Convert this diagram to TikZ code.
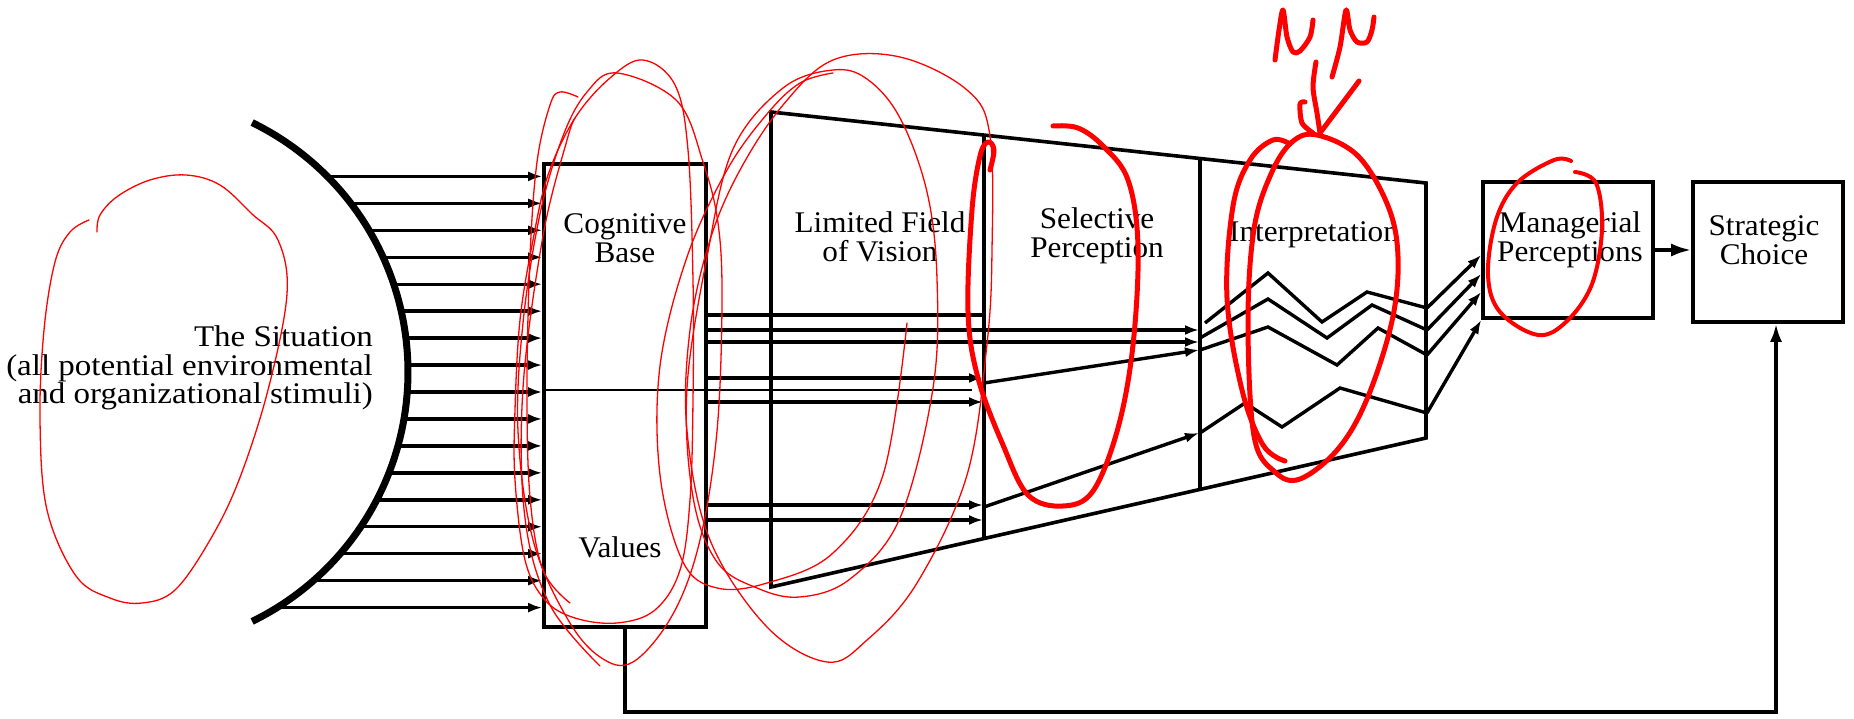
\documentclass[tikz,border=0pt]{standalone}
\usepackage{fontspec}
\setmainfont{Liberation Serif}[FakeStretch=1.04]
\newfontfamily\sitfont{Liberation Serif}[FakeStretch=1.10]
\usetikzlibrary{arrows.meta}
\begin{document}
\begin{tikzpicture}[x=1pt,y=-1pt,line join=miter,
  ln/.style={line width=3.6pt},
  arr/.style={line width=3.4pt,-{Latex[length=14pt,width=10pt]}},
  lbl/.style={font=\fontsize{30}{29.5}\selectfont,align=center,inner sep=0pt},
  redthin/.style={red,line width=1.3pt,line cap=round,line join=round},
  redthick/.style={red,line width=5pt,line cap=round,line join=round}]
\useasboundingbox (0,0) rectangle (1854,719);
\fill[white] (0,0) rectangle (1854,719);

% the situation arc
\draw[line width=7pt] plot[domain=-64:64,samples=90] ({130.5+277.5*cos(\x)},{372+277.5*sin(\x)});

% boxes
\node[draw,ln,minimum width=162pt,minimum height=463pt,inner sep=0pt] (cb) at (625,395.5) {};
\node[draw,ln,minimum width=170pt,minimum height=136pt,inner sep=0pt] (mp) at (1568,250) {};
\node[draw,ln,minimum width=150pt,minimum height=140pt,inner sep=0pt] (sc) at (1768,252) {};

% trapezoid
\coordinate (T1) at (771,112);
\coordinate (T2) at (1426,183);
\coordinate (T3) at (1426,438);
\coordinate (T4) at (771,587);
\draw[ln] (T1) -- (T2) -- (T3) -- (T4) -- cycle;
\coordinate (V1t) at (984,135);
\coordinate (V1b) at (984,538);
\coordinate (V2t) at (1200,158.6);
\coordinate (V2b) at (1200,489);
\draw[ln] (V1t) -- (V1b);
\draw[ln] (V2t) -- (V2b);

% labels
\node[lbl] (tcb) at (625,238) {Cognitive\\Base};
\node[lbl] (tval) at (620,547) {Values};
\node[lbl] (tlf) at (880,237) {Limited Field\\of Vision};
\node[lbl] (tsp) at (1097,236) {Selective\\Perception};
\node[lbl] (tint) at (1314,235) {Interpretation};
\node[lbl] (tmp) at (1570,240) {Managerial\\Perceptions};
\node[lbl] (tsc) at (1764,240) {Strategic\\Choice};
\node[lbl,align=right,anchor=east,font=\sitfont\fontsize{30}{28.5}\selectfont] (tsit) at (373,368)
  {The Situation\\(all potential environmental\\and organizational stimuli)};

% stimuli arrows
\foreach \i in {0,...,16}{
  \pgfmathsetmacro{\yy}{176.4+26.95*\i}
  \pgfmathsetmacro{\dd}{(\yy-372)/100}
  \pgfmathsetmacro{\xx}{130.5+100*sqrt(2.775*2.775-\dd*\dd)}
  \coordinate (s\i) at (\xx,\yy);
  \draw[arr] (s\i) -- (s\i -| cb.west);
}

% lines through the limited field
\coordinate (P315) at (984,315);
\coordinate (A330) at (1199,330);
\coordinate (A342) at (1199,342);
\coordinate (B378) at (983,378);
\coordinate (B390) at (972,390);
\coordinate (B402) at (983,402);
\coordinate (C505) at (983,505);
\coordinate (C520) at (983,520);
\draw[ln] (cb.east |- P315) -- (P315);
\draw[arr] (cb.east |- A330) -- (A330);
\draw[arr] (cb.east |- A342) -- (A342);
\draw[arr] (cb.east |- B378) -- (B378);
\draw[line width=2.8pt] (cb.west |- B390) -- (B390);
\draw[arr] (cb.east |- B402) -- (B402);
\draw[arr] (cb.east |- C505) -- (C505);
\draw[arr] (cb.east |- C520) -- (C520);

% slanted arrows through selective perception
\coordinate (D1) at (984,383);
\coordinate (D2) at (1199,350);
\coordinate (E1) at (984,507);
\coordinate (E2) at (1199,433);
\draw[arr] (D1) -- (D2);
\draw[arr] (E1) -- (E2);

% zigzags in interpretation
\coordinate (Z1) at (1205,323);
\coordinate (Z2) at (1200,338);
\coordinate (Z3) at (1200,350);
\coordinate (Z4) at (1200,433);
\coordinate (Y1) at (1427,308);
\coordinate (Y2) at (1427,330);
\coordinate (Y3) at (1427,355);
\coordinate (Y4) at (1427,413);
\draw[line width=3.4pt] (Z1) -- (1268,273) -- (1322,322) -- (1367,292) -- (Y1);
\draw[line width=3.4pt] (Z2) -- (1268,299) -- (1327,338) -- (1372,305) -- (Y2);
\draw[line width=3.4pt] (Z3) -- (1268,327) -- (1337,365) -- (1378,328) -- (Y3);
\draw[line width=3.4pt] (Z4) -- (1245,403) -- (1282,427) -- (1340,388) -- (Y4);

% arrows into managerial perceptions
\coordinate (M1) at (1400,255);
\coordinate (M2) at (1400,274);
\coordinate (M3) at (1400,292);
\coordinate (M4) at (1400,320);
\draw[arr] (Y1) -- (mp.west |- M1);
\draw[arr] (Y2) -- (mp.west |- M2);
\draw[arr] (Y3) -- (mp.west |- M3);
\draw[arr] (Y4) -- (mp.west |- M4);

% managerial -> strategic
\draw[line width=3.4pt,-{Latex[length=20pt,width=13pt]}] (mp.east) -- (sc.west |- mp.east);

% feedback
\coordinate (FB) at (1776,712);
\draw[line width=3.4pt,-{Latex[length=18pt,width=12pt]}] (cb.south) |- (FB) -- (FB |- sc.south);

% ---- red annotations ----
\draw[redthin] plot[smooth,tension=0.6] coordinates {(89,220) (70,232) (55,262) (44,330) (40,420) (47,510) (76,576) (110,598) (142,603) (175,590) (210,540) (239,480) (268,390) (287,294) (278,240) (252,214) (220,185) (186,175) (150,180) (118,196) (100,215) (97,232)};

\draw[redthin] plot[smooth cycle,tension=0.6] coordinates {(643,60) (675,85) (688,150) (693,280) (693,400) (690,500) (680,570) (655,610) (617,623) (575,618) (545,600) (525,560) (515,480) (515,410) (520,320) (533,240) (548,175) (575,118) (610,78)};
\draw[redthin] plot[smooth cycle,tension=0.6] coordinates {(617,73) (677,101) (703,162) (718,223) (722,301) (717,431) (700,540) (673,614) (633,662) (600,657) (567,618) (533,540) (518,431) (523,323) (540,214) (563,136) (587,92)};
\draw[redthin] plot[smooth,tension=0.6] coordinates {(578,97) (560,92) (550,105) (537,162) (530,257) (527,388) (530,497) (543,570) (570,603)};
\draw[redthin] plot[smooth,tension=0.6] coordinates {(575,118) (567,140) (543,236) (523,388) (525,518) (550,605) (600,666)};

\draw[redthin] plot[smooth cycle,tension=0.6] coordinates {(833,70) (867,79) (900,118) (927,192) (937,279) (933,388) (900,518) (850,579) (800,597) (757,588) (717,562) (693,497) (687,388) (707,257) (733,149) (783,88)};
\draw[redthin] plot[smooth cycle,tension=0.6] coordinates {(833,60) (900,57) (967,90) (990,136) (992,250) (987,344) (967,475) (917,583) (867,640) (827,662) (767,627) (710,540) (687,431) (690,330) (710,240) (740,170) (783,105)};
\draw[redthin] plot[smooth,tension=0.6] coordinates {(907,323) (883,475) (833,553) (767,583) (717,588) (683,562) (660,475) (660,366) (687,257) (727,170) (767,114) (800,83) (833,73)};

\draw[redthick] plot[smooth,tension=0.6] coordinates {(990,170) (994,150) (988,142) (980,156) (972,210) (968,312) (978,378) (1003,445) (1028,495) (1063,506) (1093,491) (1118,428) (1133,345) (1138,246) (1128,180) (1103,146) (1078,128) (1053,126)};

\draw[redthick] plot[smooth cycle,tension=0.6] coordinates {(1317,135) (1358,156) (1388,206) (1398,257) (1392,321) (1367,399) (1338,449) (1300,479) (1275,472) (1254,436) (1248,321) (1254,229) (1271,174) (1292,142)};
\draw[redthick] plot[smooth,tension=0.6] coordinates {(1285,461) (1263,445) (1242,390) (1227,298) (1233,206) (1250,160) (1273,140) (1290,144)};

\draw[redthick] plot[smooth,tension=0.5] coordinates {(1275,60) (1279,30) (1283,10) (1287,37) (1293,52) (1300,51) (1310,37) (1313,20)};
\draw[redthick] plot[smooth,tension=0.5] coordinates {(1332,77) (1340,47) (1346,10) (1350,30) (1357,42) (1367,42) (1372,30) (1374,17)};
\draw[redthick] plot[smooth,tension=0.5] coordinates {(1316,62) (1313,87) (1317,113) (1320,133)};
\draw[redthick] plot[smooth,tension=0.5] coordinates {(1305,102) (1300,104) (1302,123) (1313,133)};
\draw[redthick] (1359,81) -- (1320,133);

\draw[red,line width=4pt,line cap=round,line join=round] plot[smooth,tension=0.6] coordinates {(1571,161) (1554,160) (1517,183) (1496,220) (1488,275) (1500,312) (1538,335) (1567,321) (1592,284) (1602,229) (1596,183) (1575,172)};
\end{tikzpicture}
\end{document}
